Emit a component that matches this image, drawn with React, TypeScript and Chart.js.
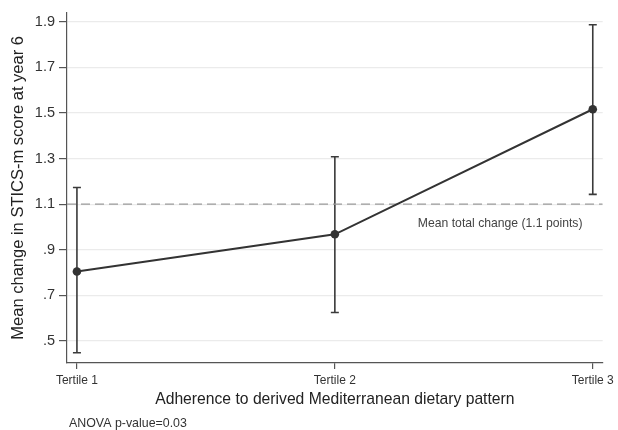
import React, { useEffect, useRef } from "react";
import { Chart, registerables } from "chart.js";

Chart.register(...registerables);

const categories = ["Tertile 1", "Tertile 2", "Tertile 3"];
const xPositions = [1, 2, 3];
const means = [0.805, 0.968, 1.516];
const lowerCI = [0.449, 0.625, 1.143];
const upperCI = [1.173, 1.308, 1.886];
const meanTotalChange = 1.1;
const meanTotalLabel = "Mean total change (1.1 points)";
const footnote = "ANOVA p-value=0.03";
const yTickValues = [0.5, 0.7, 0.9, 1.1, 1.3, 1.5, 1.7, 1.9];
const yTickLabels = [".5", ".7", ".9", "1.1", "1.3", "1.5", "1.7", "1.9"];
const xTitle = "Adherence to derived Mediterranean dietary pattern";
const yTitle = "Mean change in STICS-m score at year 6";

const X_MIN = 0.9615;
const X_MAX = 3.0385;
const Y_MIN = 0.404;
const Y_MAX = 1.939;
const FONT = "'Liberation Sans', Arial, sans-serif";

const errorBarPlugin = {
  id: "errorBars",
  beforeDatasetsDraw(chart: any) {
    const { ctx, scales } = chart;
    const xs = scales.x;
    const ys = scales.y;
    ctx.save();
    ctx.strokeStyle = "#3a3a3a";
    ctx.lineWidth = 1.6;
    for (let i = 0; i < xPositions.length; i++) {
      const px = xs.getPixelForValue(xPositions[i]);
      const pLo = ys.getPixelForValue(lowerCI[i]);
      const pHi = ys.getPixelForValue(upperCI[i]);
      ctx.beginPath();
      ctx.moveTo(px, pLo);
      ctx.lineTo(px, pHi);
      ctx.moveTo(px - 4, pLo);
      ctx.lineTo(px + 4, pLo);
      ctx.moveTo(px - 4, pHi);
      ctx.lineTo(px + 4, pHi);
      ctx.stroke();
    }
    ctx.restore();
  },
};

const textPlugin = {
  id: "texts",
  afterDraw(chart: any) {
    const { ctx, scales } = chart;
    const xs = scales.x;
    const ys = scales.y;
    ctx.save();
    ctx.fillStyle = "#444";
    ctx.font = `12.2px ${FONT}`;
    ctx.textAlign = "center";
    ctx.textBaseline = "middle";
    const ax = xs.getPixelForValue(2.641);
    const ay = ys.getPixelForValue(meanTotalChange) + 19.5;
    ctx.fillText(meanTotalLabel, ax, ay);
    ctx.fillStyle = "#333";
    ctx.font = `12.4px ${FONT}`;
    ctx.textAlign = "left";
    ctx.fillText(footnote, 69, 424);
    ctx.restore();
  },
};

export default function App() {
  const ref = useRef<HTMLCanvasElement | null>(null);
  useEffect(() => {
    if (!ref.current) return;
    const chart = new Chart(ref.current, {
      type: "line",
      data: {
        datasets: [
          {
            label: "Mean change",
            data: xPositions.map((x, i) => ({ x, y: means[i] })),
            borderColor: "#333",
            backgroundColor: "#333",
            borderWidth: 2,
            pointRadius: 4.3,
            pointBackgroundColor: "#333",
            pointBorderWidth: 0,
            tension: 0,
          },
          {
            label: "Mean total change",
            data: [
              { x: X_MIN, y: meanTotalChange },
              { x: X_MAX, y: meanTotalChange },
            ],
            borderColor: "#9a9a9a",
            borderWidth: 1.3,
            borderDash: [9, 5],
            pointRadius: 0,
            order: 5,
          },
        ],
      },
      options: {
        responsive: false,
        animation: false,
        layout: { padding: { left: 0, right: 12, top: 10, bottom: 0 } },
        plugins: {
          legend: { display: false },
          tooltip: { enabled: false },
        },
        scales: {
          x: {
            type: "linear",
            min: X_MIN,
            max: X_MAX,
            afterBuildTicks: (scale: any) => {
              scale.ticks = xPositions.map((v) => ({ value: v }));
            },
            afterFit: (scale: any) => {
              scale.height = 67;
            },
            ticks: {
              autoSkip: false,
              maxRotation: 0,
              padding: 4,
              color: "#333",
              font: { family: FONT, size: 12 },
              callback: (v: any) => {
                const idx = xPositions.indexOf(Number(v));
                return idx >= 0 ? categories[idx] : "";
              },
            },
            grid: {
              drawOnChartArea: false,
              drawTicks: true,
              tickLength: 6,
              tickColor: "#555",
              lineWidth: 1.2,
            },
            border: { display: true, color: "#555", width: 1.2 },
            title: {
              display: true,
              text: xTitle,
              color: "#222",
              font: { family: FONT, size: 15.7 },
              padding: { top: 0, bottom: 20.6 },
            },
          },
          y: {
            type: "linear",
            min: Y_MIN,
            max: Y_MAX,
            afterBuildTicks: (scale: any) => {
              scale.ticks = yTickValues.map((v) => ({ value: v }));
            },
            afterFit: (scale: any) => {
              scale.width = 67;
            },
            ticks: {
              autoSkip: false,
              padding: 4,
              color: "#333",
              font: { family: FONT, size: 14.5 },
              callback: (v: any) => {
                const idx = yTickValues.findIndex((t) => Math.abs(t - Number(v)) < 1e-6);
                return idx >= 0 ? yTickLabels[idx] : "";
              },
            },
            grid: {
              color: "#ebebeb",
              lineWidth: 1.2,
              drawTicks: true,
              tickLength: 8,
              tickColor: "#555",
            },
            border: { display: true, color: "#555", width: 1.2 },
            title: {
              display: true,
              text: yTitle,
              color: "#222",
              font: { family: FONT, size: 16.5 },
              padding: { top: 9, bottom: 0 },
            },
          },
        },
      },
      plugins: [errorBarPlugin, textPlugin],
    });
    return () => chart.destroy();
  }, []);

  return (
    <div style={{ position: "fixed", left: 0, top: 0, width: 618, height: 430, background: "#fff" }}>
      <canvas ref={ref} width={618} height={430} style={{ display: "block" }} />
    </div>
  );
}
